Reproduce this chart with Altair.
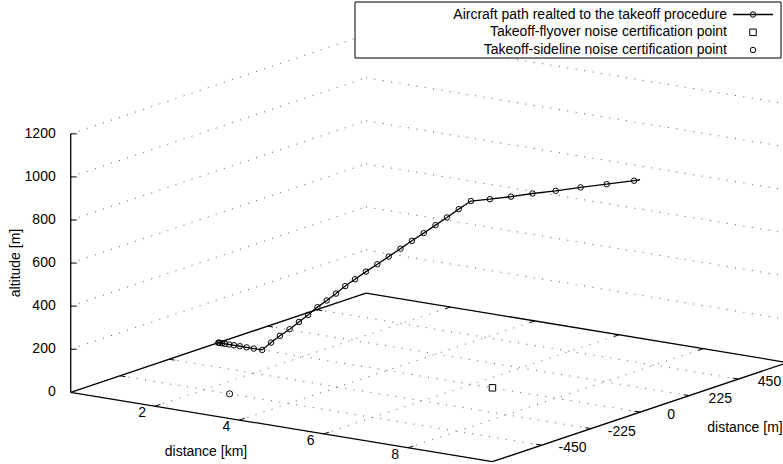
import math

import altair as alt
import pandas as pd

W, H = 783, 464

# Take-off trajectory: along-track distance, lateral offset and altitude of each sample
path_distance_km = [0.00, 0.01, 0.04, 0.09, 0.16, 0.26, 0.37, 0.51, 0.67, 0.84, 1.04,
                    1.25, 1.46, 1.69, 1.91, 2.13, 2.35, 2.57, 2.79, 3.01, 3.24,
                    3.50, 3.77, 4.04, 4.32, 4.59, 4.87, 5.15, 5.42, 5.70, 5.99,
                    6.44, 6.94, 7.45, 8.00, 8.59, 9.21, 9.86, 10.00]
path_lateral_m = [0, 0, 0, 0, 0, 0, 0, 0, 0, 0, 0,
                  0, 0, 0, 0, 0, 0, 0, 0, 0, 0,
                  0, 0, 0, 0, 0, 0, 0, 0, 0, 0,
                  0, 0, 0, 0, 0, 0, 0, 0]
path_altitude_m = [0, 0, 0, 0, 0, 0, 0, 0, 0, 0, 0,
                   41, 79, 117, 158, 198, 241, 279, 318, 360, 399,
                   443, 486, 530, 576, 621, 666, 712, 756, 804, 851,
                   874, 902, 933, 963, 998, 1033, 1070, 1079]

# Noise certification reference points (distance km, lateral m, altitude m)
flyover_point = [6.5, 0, 0]
sideline_point = [2.6, -450, 0]

# Axis ranges and tics
x_range_km = [0, 10]
y_range_m = [-675, 675]
z_range_m = [0, 1200]
x_ticks = [2, 4, 6, 8]
y_ticks = [-450, -225, 0, 225, 450]
z_ticks = [0, 200, 400, 600, 800, 1000, 1200]

legend_labels = ["Aircraft path realted to the takeoff procedure",
                 "Takeoff-flyover noise certification point",
                 "Takeoff-sideline noise certification point"]

# 3-D view: rotation about z, tilt, vertical squash, size and screen centre of the box
ROT_Z = math.radians(-35.0)
TILT = math.radians(76.4)
Z_SCALE = 0.5165
SCALE = 257.4
CENTER = (429.2, 248.2)
FONT = "Liberation Sans"


def _norm(field, lo, hi):
    return f"((({field}) - ({(lo + hi) / 2})) / ({(hi - lo) / 2}))"


def project(xf, yf, zf):
    """Vega expressions giving the screen position of a 3-D data point."""
    xn = _norm(xf, *x_range_km)
    yn = _norm(yf, *y_range_m)
    zn = _norm(zf, *z_range_m)
    c, s = math.cos(ROT_Z), math.sin(ROT_Z)
    ct = math.cos(TILT)
    kz = Z_SCALE * math.sin(TILT)
    px = f"({CENTER[0]}) + ({SCALE}) * ({xn} * ({c}) - {yn} * ({s}))"
    py = (f"({CENTER[1]}) - ({SCALE}) * (({xn} * ({s}) + {yn} * ({c})) * ({ct})"
          f" + {zn} * ({kz}))")
    return px, py


XS = alt.Scale(domain=[0, W], range=[0, W], nice=False, zero=False)
YS = alt.Scale(domain=[0, H], range=[0, H], nice=False, zero=False)


def points_layer(df, mark):
    px, py = project("datum.x", "datum.y", "datum.z")
    return alt.Chart(df, mark=mark).transform_calculate(sx=px, sy=py).encode(
        x=alt.X("sx:Q", scale=XS, axis=None), y=alt.Y("sy:Q", scale=YS, axis=None)
    )


def segments_layer(df, mark, extra=None):
    px1, py1 = project("datum.x1", "datum.y1", "datum.z1")
    px2, py2 = project("datum.x2", "datum.y2", "datum.z2")
    ch = alt.Chart(df, mark=mark).transform_calculate(sx1=px1, sy1=py1, sx2=px2, sy2=py2)
    if extra:
        ch = ch.transform_calculate(**extra)
    return ch.encode(
        x=alt.X("sx1:Q", scale=XS, axis=None),
        y=alt.Y("sy1:Q", scale=YS, axis=None),
        x2="sx2:Q",
        y2="sy2:Q",
    )


def seg(a, b):
    return dict(x1=a[0], y1=a[1], z1=a[2], x2=b[0], y2=b[1], z2=b[2])


x0, x1 = x_range_km
y0, y1 = y_range_m
z0, z1 = z_range_m

# Dotted grid: base plane plus the two back walls
grid = [seg((k, y0, z0), (k, y1, z0)) for k in x_ticks]
grid += [seg((x0, k, z0), (x1, k, z0)) for k in y_ticks]
for k in z_ticks[1:]:
    grid.append(seg((x0, y0, k), (x0, y1, k)))
    grid.append(seg((x0, y1, k), (x1, y1, k)))

# Solid border of the base plane and the vertical axis
border = [seg((x0, y0, z0), (x1, y0, z0)), seg((x1, y0, z0), (x1, y1, z0)),
          seg((x1, y1, z0), (x0, y1, z0)), seg((x0, y1, z0), (x0, y0, z0)),
          seg((x0, y0, z0), (x0, y0, z1))]

# Tic marks on the base edges (front and mirrored at the back)
tx = 0.13
ty = 24
tics = [seg((k, y0, z0), (k, y0 + ty, z0)) for k in x_ticks]
tics += [seg((k, y1, z0), (k, y1 - ty, z0)) for k in x_ticks]
tics += [seg((x1, k, z0), (x1 - tx, k, z0)) for k in y_ticks]
tics += [seg((x0, k, z0), (x0 + tx, k, z0)) for k in y_ticks]
ztics = [seg((x0, y0, k), (x0, y0, k)) for k in z_ticks[1:]]

thin = alt.MarkDef(type="rule", color="black", strokeWidth=1)
layers = [
    segments_layer(pd.DataFrame(grid),
                   alt.MarkDef(type="rule", color="#555555", strokeWidth=1,
                               strokeDash=[1, 7.5])),
    segments_layer(pd.DataFrame(border),
                   alt.MarkDef(type="rule", color="black", strokeWidth=1.3)),
    segments_layer(pd.DataFrame(tics), thin),
    segments_layer(pd.DataFrame(ztics), thin, extra={"sx2": "datum.sx1 + 6"}),
]

# Tic labels
xl = pd.DataFrame({"x": x_ticks, "y": y0, "z": z0, "t": [str(v) for v in x_ticks]})
yl = pd.DataFrame({"x": x1, "y": y_ticks, "z": z0, "t": [str(v) for v in y_ticks]})
zl = pd.DataFrame({"x": x0, "y": y0, "z": z_ticks, "t": [str(v) for v in z_ticks]})
layers += [
    points_layer(xl, alt.MarkDef(type="text", align="center", baseline="middle",
                                 dx=-13, dy=7, fontSize=14, font=FONT)).encode(text="t:N"),
    points_layer(yl, alt.MarkDef(type="text", align="center", baseline="middle",
                                 dx=31, dy=3, fontSize=14, font=FONT)).encode(text="t:N"),
    points_layer(zl, alt.MarkDef(type="text", align="right", baseline="middle",
                                 dx=-15, fontSize=14, font=FONT)).encode(text="t:N"),
]

# Axis titles
titles = pd.DataFrame({"t": ["distance [km]", "distance [m]", "altitude [m]"]})
layers += [
    alt.Chart(titles).mark_text(fontSize=14, font=FONT, baseline="middle")
    .transform_filter("datum.t == 'distance [km]'")
    .encode(text="t:N", x=alt.value(206), y=alt.value(452)),
    alt.Chart(titles).mark_text(fontSize=14, font=FONT, baseline="middle")
    .transform_filter("datum.t == 'distance [m]'")
    .encode(text="t:N", x=alt.value(745), y=alt.value(428)),
    alt.Chart(titles).mark_text(fontSize=14, font=FONT, baseline="middle", angle=270)
    .transform_filter("datum.t == 'altitude [m]'")
    .encode(text="t:N", x=alt.value(16), y=alt.value(263)),
]

# Certification points
fly = pd.DataFrame({"x": [flyover_point[0]], "y": [flyover_point[1]], "z": [flyover_point[2]]})
side = pd.DataFrame({"x": [sideline_point[0]], "y": [sideline_point[1]], "z": [sideline_point[2]]})
layers += [
    points_layer(fly, alt.MarkDef(type="point", shape="square", filled=False, size=42,
                                  color="black", strokeWidth=1, opacity=1)),
    points_layer(side, alt.MarkDef(type="point", shape="circle", filled=False, size=38,
                                   color="black", strokeWidth=1, opacity=1)),
]

# Aircraft path (the last sample closes the line without a marker)
path = pd.DataFrame({"i": range(len(path_distance_km)), "x": path_distance_km,
                     "y": path_lateral_m, "z": path_altitude_m})
n = len(path)
layers += [
    points_layer(path, alt.MarkDef(type="line", color="black", strokeWidth=1.3))
    .encode(order="i:Q"),
    points_layer(path, alt.MarkDef(type="point", shape="circle", filled=False, size=30,
                                   color="black", strokeWidth=1, opacity=1))
    .transform_filter(f"datum.i < {n - 1}"),
]

# Key box in the top right corner
key = pd.DataFrame({"t": legend_labels, "row": [0, 1, 2]})
row_y = [14.5, 32.3, 50]
layers.append(
    alt.Chart(key).mark_rect(fill="white", stroke="black", strokeWidth=1)
    .transform_filter("datum.row == 0")
    .encode(x=alt.value(355), x2=alt.value(781), y=alt.value(2), y2=alt.value(58))
)
for r in range(3):
    layers.append(
        alt.Chart(key).mark_text(fontSize=14, font=FONT, align="right", baseline="middle")
        .transform_filter(f"datum.row == {r}")
        .encode(text="t:N", x=alt.value(727), y=alt.value(row_y[r]))
    )
layers += [
    alt.Chart(key).mark_rule(color="black", strokeWidth=1.3)
    .transform_filter("datum.row == 0")
    .encode(x=alt.value(733), x2=alt.value(773), y=alt.value(row_y[0])),
    alt.Chart(key).mark_point(shape="circle", filled=False, size=30, color="black",
                              strokeWidth=1, opacity=1)
    .transform_filter("datum.row == 0 || datum.row == 2")
    .transform_calculate(ky=f"datum.row == 0 ? {row_y[0]} : {row_y[2]}")
    .encode(x=alt.value(753), y=alt.Y("ky:Q", scale=YS, axis=None)),
    alt.Chart(key).mark_point(shape="square", filled=False, size=42, color="black",
                              strokeWidth=1, opacity=1)
    .transform_filter("datum.row == 1")
    .encode(x=alt.value(753), y=alt.value(row_y[1])),
]

chart = (
    alt.layer(*layers)
    .properties(width=W, height=H, autosize=alt.AutoSizeParams(type="none"), padding=0)
    .configure_view(stroke=None)
    .configure_text(font=FONT, fontSize=14, color="black")
)

chart.save("out.html", embed_options={"renderer": "svg", "actions": False})
